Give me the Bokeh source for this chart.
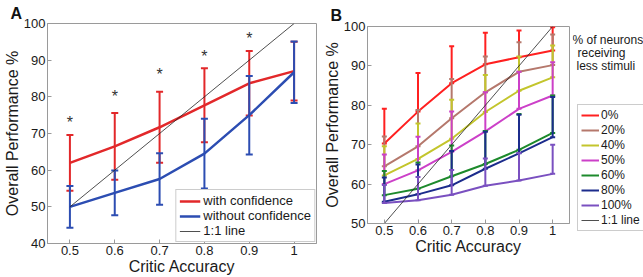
from bokeh.plotting import figure
from bokeh.layouts import row, column
from bokeh.models import Range1d, FixedTicker, Legend, LegendItem, Label, Title
from bokeh.embed import file_html
from bokeh.resources import INLINE
from bokeh.core.properties import value

FONT = "Liberation Sans"
NAN = float("nan")

# ---------------- data ----------------
accuracy = [0.5, 0.6, 0.7, 0.8, 0.9, 1.0]
x_tick_labels = ["0.5", "0.6", "0.7", "0.8", "0.9", "1"]
y_ticks_a = [40, 50, 60, 70, 80, 90, 100]
y_ticks_b = [50, 60, 70, 80, 90, 100]

# Panel A
perf_with_conf = [62.0, 66.5, 71.7, 77.7, 83.7, 87.0]
err_with_conf = [7.6, 9.1, 9.7, 10.1, 8.8, 8.0]
perf_without_conf = [50.0, 53.8, 57.6, 64.5, 75.0, 86.7]
err_without_conf = [5.7, 6.1, 7.0, 9.5, 10.7, 8.4]
star_x = [0.5, 0.6, 0.7, 0.8, 0.9]
star_y = [74.0, 81.0, 87.0, 92.0, 97.0]
one_x = [0.5, 1.0]
one_y = [50, 100]

# Panel B  (mean and upper end of error bar)
b_labels = ["0%", "20%", "40%", "50%", "60%", "80%", "100%"]
b_colors = ["#ff2020", "#b5786c", "#c3c52c", "#cc40c8", "#1d8a2c", "#1c2c8c", "#7a50c0"]
b_mean = [
    [70.3, 78.4, 85.6, 90.4, 92.2, 93.9],
    [64.5, 69.6, 76.7, 83.3, 88.5, 90.2],
    [62.2, 66.4, 71.5, 78.3, 83.7, 87.1],
    [60.0, 63.5, 68.2, 73.4, 79.1, 82.5],
    [57.2, 58.8, 62.0, 65.1, 68.7, 73.0],
    [55.5, 57.4, 59.7, 63.9, 67.8, 71.9],
    [55.2, 55.9, 57.3, 59.6, 60.9, 62.6],
]
b_upper = [
    [79.1, 88.2, 95.0, 98.4, 99.0, 99.8],
    [72.1, 78.8, 86.7, 92.4, 96.0, 98.0],
    [69.6, 75.4, 81.4, 87.7, 92.4, 95.2],
    [67.5, 72.0, 78.4, 83.3, 88.5, 90.9],
    [63.3, 65.5, 69.8, 73.5, 77.8, 82.5],
    [61.7, 65.0, 68.4, 73.3, 77.6, 82.1],
    [59.8, 61.8, 63.6, 66.5, 67.9, 70.0],
]
note_lines = ["% of neurons", "receiving", "less stimuli"]

RED_A = "#e2282a"
BLUE_A = "#2c4db2"
FRAME = "#9a9a9a"
TXT = "#1a1a1a"
H = 277


def make_fig(width, y_rng, y_ticks, mbl, mbr, mbt, mbb, panel_title, title_offset, title_standoff):
    p = figure(width=width, height=H, x_range=Range1d(0.45, 1.05),
               y_range=Range1d(*y_rng), output_backend="svg", toolbar_location=None,
               min_border_left=mbl, min_border_right=mbr, min_border_top=mbt,
               min_border_bottom=mbb)
    p.title = Title(text=panel_title, align="left", offset=title_offset,
                    standoff=title_standoff, text_font=FONT, text_font_size="16px",
                    text_font_style="bold", text_color="#111111")
    p.grid.visible = False
    p.outline_line_color = FRAME
    xa = p.xaxis[0]
    ya = p.yaxis[0]
    xa.ticker = FixedTicker(ticks=accuracy)
    xa.major_label_overrides = dict(zip(accuracy, x_tick_labels))
    ya.ticker = FixedTicker(ticks=y_ticks)
    for ax in (xa, ya):
        ax.major_tick_in = 4
        ax.major_tick_out = 0
        ax.minor_tick_line_color = None
        ax.axis_line_color = FRAME
        ax.major_tick_line_color = FRAME
        ax.major_label_text_font = FONT
        ax.major_label_text_font_size = "13px"
        ax.major_label_text_color = TXT
        ax.major_label_standoff = 2
        ax.axis_label_text_font = FONT
        ax.axis_label_text_font_size = "16px"
        ax.axis_label_text_font_style = "normal"
        ax.axis_label_text_color = TXT
        ax.axis_label_standoff = 0
    xa.axis_label = "Critic Accuracy"
    ya.axis_label = "Overall Performance %"
    return p


# ---------------- Panel A ----------------
pa = make_fig(320, (40, 100), y_ticks_a, 44, 4, 23, 34, "A", -37, 3)

lo_r = [m - e for m, e in zip(perf_with_conf, err_with_conf)]
hi_r = [m + e for m, e in zip(perf_with_conf, err_with_conf)]
lo_b = [m - e for m, e in zip(perf_without_conf, err_without_conf)]
hi_b = [m + e for m, e in zip(perf_without_conf, err_without_conf)]

r_red = pa.line(accuracy, perf_with_conf, line_color=RED_A, line_width=2.5)
pa.segment(accuracy, lo_r, accuracy, hi_r, line_color=RED_A, line_width=2)
pa.scatter(accuracy + accuracy, lo_r + hi_r, marker="dash", size=7,
           line_color=RED_A, line_width=2)
r_blue = pa.line(accuracy, perf_without_conf, line_color=BLUE_A, line_width=2.5)
pa.segment(accuracy, lo_b, accuracy, hi_b, line_color=BLUE_A, line_width=2)
pa.scatter(accuracy + accuracy, lo_b + hi_b, marker="dash", size=7,
           line_color=BLUE_A, line_width=2)
r_one_a = pa.line(one_x, one_y, line_color="#222222", line_width=0.8)
pa.text(star_x, star_y, text=["*"] * len(star_x), text_align="center",
        text_baseline="middle", y_offset=3.5, text_font=value(FONT),
        text_font_size="16px", text_color="#333333")

leg_a = Legend(items=[LegendItem(label="with confidence", renderers=[r_red]),
                      LegendItem(label="without confidence", renderers=[r_blue]),
                      LegendItem(label="1:1 line", renderers=[r_one_a])],
               location="bottom_right", margin=1, padding=3, spacing=0,
               glyph_width=21, glyph_height=14, label_height=14, label_standoff=3,
               label_text_font=FONT, label_text_font_size="13px",
               label_text_color=TXT, border_line_color=FRAME,
               background_fill_alpha=1.0)
pa.add_layout(leg_a)

# ---------------- Panel B ----------------
pb = make_fig(252, (50, 100), y_ticks_b, 42, 3, 26, 54, "B", -37, 6)

for mean, up, col in zip(b_mean, b_upper, b_colors):
    pb.line(accuracy, mean, line_color=col, line_width=2)
    pb.segment(accuracy, mean, accuracy, up, line_color=col, line_width=2)
    pb.scatter(accuracy + accuracy, mean + up, marker="dash", size=5,
               line_color=col, line_width=2)
pb.line(one_x, one_y, line_color="#222222", line_width=0.8)

# ---------------- Legend / note area for B ----------------
WC = 71
pc = figure(width=WC, height=H, x_range=Range1d(0, WC), y_range=Range1d(0, H),
            output_backend="svg", toolbar_location=None, min_border=0,
            x_axis_location=None, y_axis_location=None)
pc.grid.visible = False
pc.outline_line_color = None

legend_renderers = []
for col in b_colors:
    legend_renderers.append(pc.line([NAN], [NAN], line_color=col, line_width=2))
legend_renderers.append(pc.line([NAN], [NAN], line_color="#222222", line_width=0.8))
items_b = [LegendItem(label=lab, renderers=[r])
           for lab, r in zip(b_labels + ["1:1 line"], legend_renderers)]
leg_b = Legend(items=items_b, location=(5, 46), padding=3, spacing=1,
               glyph_width=18, glyph_height=14, label_height=14, label_standoff=2,
               label_text_font=FONT, label_text_font_size="12px",
               label_text_color=TXT, border_line_color=FRAME,
               background_fill_alpha=1.0, margin=0)
pc.add_layout(leg_b)

note_x = [0, 5, 4]
note_y = [237.5, 225, 212]
for t, nx, ny in zip(note_lines, note_x, note_y):
    pc.add_layout(Label(x=nx, y=ny, text=t, text_font=FONT, text_font_size="12px",
                        text_color=TXT, text_baseline="alphabetic"))

layout = row(column(pa), column(pb), column(pc))
open("out.html", "w").write(file_html(layout, INLINE))
